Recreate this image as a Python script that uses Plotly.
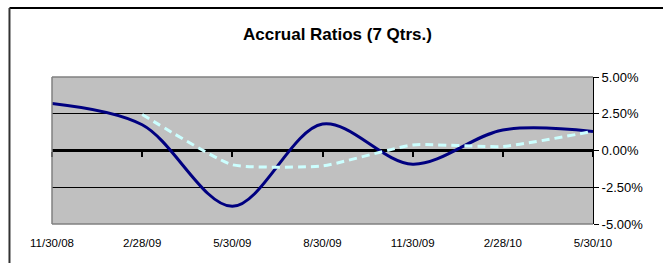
import plotly.graph_objects as go

dates = ["11/30/08", "2/28/09", "5/30/09", "8/30/09", "11/30/09", "2/28/10", "5/30/10"]
accrual_a = [3.2, 1.75, -3.8, 1.8, -0.93, 1.4, 1.3]
accrual_b = [None, 2.45, -0.97, -1.05, 0.38, 0.27, 1.3]
y_ticks = [-5.0, -2.5, 0.0, 2.5, 5.0]

idx = list(range(len(dates)))

fig = go.Figure()
fig.add_trace(go.Scatter(
    x=idx, y=accrual_a, mode="lines",
    line=dict(color="#000080", width=3, shape="spline", smoothing=0.95),
    showlegend=False, hoverinfo="skip"))
fig.add_trace(go.Scatter(
    x=idx, y=accrual_b, mode="lines", xaxis="x2",
    line=dict(color="#CCFFFF", width=3, dash="8px,5px", shape="spline", smoothing=0.45),
    showlegend=False, hoverinfo="skip", connectgaps=False))

font = "Liberation Sans, Arial, sans-serif"

fig.update_layout(
    width=663, height=263,
    margin=dict(l=52, r=70, t=77, b=39),
    paper_bgcolor="white", plot_bgcolor="#C0C0C0",
    title=dict(text="<b>Accrual Ratios (7 Qtrs.)</b>", x=0.509, xanchor="center",
               y=1 - 34 / 263, yanchor="middle",
               font=dict(family=font, size=17, color="black")),
    xaxis=dict(range=[0, 6], tickvals=idx, ticktext=dates, showgrid=False,
               zeroline=False, showline=False, ticks="", ticklabelstandoff=10,
               tickfont=dict(family=font, size=11.5, color="black")),
    xaxis2=dict(range=[0, 6], overlaying="x", anchor="free", position=0.5,
                tickvals=idx, showticklabels=False, showgrid=False, zeroline=False,
                showline=False, ticks="outside", ticklen=5, tickwidth=2,
                tickcolor="black", layer="below traces"),
    yaxis=dict(range=[-5, 5], side="right", tickvals=y_ticks,
               ticktext=[f"{v:.2f}%" for v in y_ticks],
               showgrid=True, gridcolor="#000000", gridwidth=1,
               zeroline=True, zerolinecolor="black", zerolinewidth=3,
               showline=True, linecolor="black", linewidth=1,
               ticks="outside", ticklen=5, tickcolor="black",
               tickfont=dict(family=font, size=13, color="black")),
    shapes=[
        dict(type="line", xref="paper", yref="paper", x0=0, x1=0, y0=0, y1=1,
             line=dict(color="#808080", width=1.5), layer="above"),
        dict(type="line", xref="paper", yref="paper", x0=0, x1=1, y0=1, y1=1,
             line=dict(color="#808080", width=1.5), layer="above"),
        dict(type="line", xref="paper", yref="paper", x0=0, x1=1, y0=0, y1=0,
             line=dict(color="#808080", width=1.5), layer="above"),
        dict(type="line", xref="paper", yref="paper", x0=-0.0786, x1=1.3,
             y0=1.469, y1=1.469, line=dict(color="black", width=2), layer="above"),
        dict(type="line", xref="paper", yref="paper", x0=-0.0786, x1=-0.0786,
             y0=1.469, y1=-0.6, line=dict(color="#333333", width=2), layer="above"),
    ],
)

fig.write_html("out.html", config={"displayModeBar": False, "staticPlot": True},
               post_script="document.body.style.margin='0';")
